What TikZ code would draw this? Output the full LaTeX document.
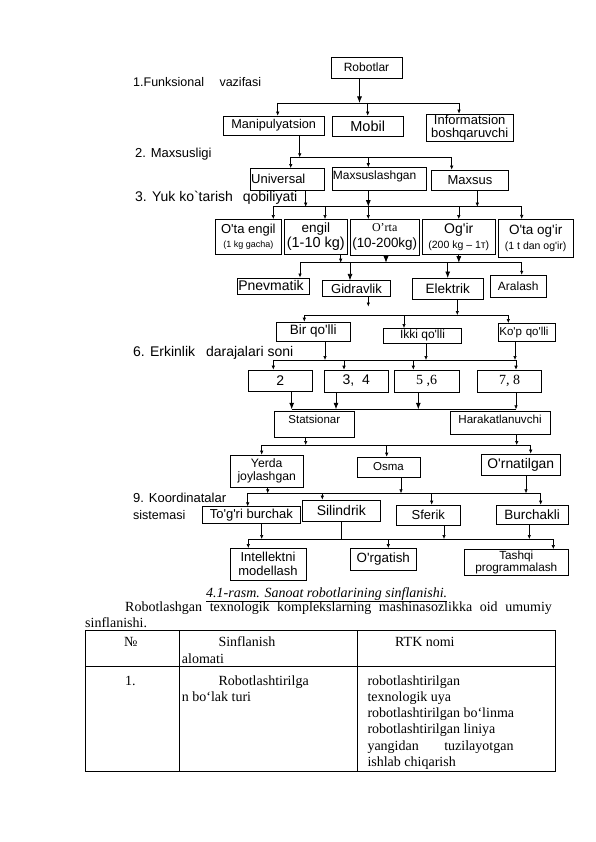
\documentclass[tikz,border=0pt]{standalone}
\usepackage{fontspec}
\setmainfont{Liberation Serif}
\newfontfamily\dgm{Liberation Sans}
\usetikzlibrary{arrows.meta}
\newcommand\dfs[1]{\dgm\fontsize{#1}{#1}\selectfont}
\tikzset{
    box/.style={rectangle, draw, line width=0.6pt, inner sep=1pt, align=center, font=\dfs{13}},
    lbox/.style={box, align=left, text width=#1},
    lbl/.style={anchor=west, inner sep=0pt, font=\dfs{13}},
    bus/.style={line width=0.6pt},
    arr/.style={-{Latex[length=4pt,width=3.5pt]}, line width=0.6pt},
    bigarr/.style={-{Latex[length=6.5pt,width=5pt]}, line width=0.8pt},
    txt/.style={anchor=base west, inner sep=0pt, font=\fontsize{14}{16.3}\selectfont},
}

\begin{document}
\begin{tikzpicture}[x=1pt, y=-1pt]
    \useasboundingbox (0,0) rectangle (596,842);

    % ── Level labels ───────────────────────────────────────────────
    \node[lbl, font=\dfs{12.5}] (l1) at (133,82.5) {1.Funksional\hspace{12pt} vazifasi};
    \node[lbl] (l2) at (135,154) {2. Maxsusligi};
    \node[lbl, font=\dfs{14}] (l3) at (135,197.5) {3. Yuk ko`tarish\hspace{6pt} qobiliyati};
    \node[lbl, font=\dfs{14}] (l6) at (133,352.5) {6. Erkinlik\hspace{7pt} darajalari soni};
    \node[lbl] (l9a) at (133,497.5) {9. Koordinatalar};
    \node[lbl, font=\dfs{12.5}] (l9b) at (133,515) {sistemasi};

    % ── Boxes ──────────────────────────────────────────────────────
    \node[box, minimum width=71pt, minimum height=21pt, font=\dfs{12}] (rob) at (366.5,67.5) {Robotlar};

    \node[box, minimum width=100.7pt, minimum height=19pt, font=\dfs{12.7}] (man) at (273.7,125.5) {Manipulyatsion};
    \node[box, minimum width=71.3pt, minimum height=20pt, font=\dfs{14.5}] (mob) at (367.7,126) {Mobil};
    \node[box, minimum width=87.3pt, minimum height=27.7pt, font=\dfs{13}] (inf) at (469.7,127.8) {Informatsion\\[0pt]boshqaruvchi};

    \node[lbox=72pt, minimum height=21.7pt] (uni) at (287.2,179.2) {Universal};
    \node[lbox=92pt, minimum height=22.5pt, font=\dfs{12}] (mxl) at (378.9,178.8) {Maxsuslashgan\\[-4pt]\mbox{}};
    \node[box, minimum width=76.6pt, minimum height=20.7pt] (mxs) at (470,180.3) {Maxsus};

    \node[box, minimum width=66.7pt, minimum height=34.7pt] (oe) at (248.3,236.7) {O'ta engil\\[1pt]{\dfs{9}(1 kg gacha)}};
    \node[box, minimum width=63.7pt, minimum height=34.7pt, font=\dfs{13.5}] (en) at (315.8,236.7) {engil\\[2pt]{\dfs{14.5}(1-10 kg)}};
    \node[box, minimum width=69.3pt, minimum height=35.7pt] (ort) at (384.7,237.2) {{\rmfamily\fontsize{12}{12}\selectfont O'rta}\\[3pt]{\dfs{13.4}(10-200kg)}};
    \node[box, minimum width=72.3pt, minimum height=34.7pt, font=\dfs{14}] (og) at (458.8,236.7) {Og'ir\\[1pt]{\dfs{10.5}(200 kg – 1т)}};
    \node[box, minimum width=74.5pt, minimum height=38.2pt, font=\dfs{13.5}] (oog) at (535.7,238.4) {O'ta og'ir\\[1pt]{\dfs{10.5}(1 t dan og'ir)}};

    \node[lbox=70pt, minimum height=16pt, font=\dfs{14}] (pn) at (273.3,285.8) {Pnevmatik};
    \node[box, minimum width=68.4pt, minimum height=16pt] (gid) at (356.5,288.7) {Gidravlik};
    \node[box, minimum width=71.3pt, minimum height=21pt, font=\dfs{13.5}] (ele) at (447.7,288.8) {Elektrik};
    \node[box, minimum width=56.7pt, minimum height=22.3pt, font=\dfs{12}] (ara) at (518.3,286.2) {Aralash};

    \node[box, minimum width=73.3pt, minimum height=19pt, font=\dfs{13.5}] (bir) at (313.3,331.5) {Bir qo'lli};
    \node[box, minimum width=78.4pt, minimum height=15pt, font=\dfs{12}] (ikki) at (422.5,335.8) {Ikki qo'lli};
    \node[lbox=54.7pt, minimum height=18.4pt, font=\dfs{11.5}] (kop) at (526.7,332.5) {Ko'p qo'lli};

    \node[box, minimum width=64pt, minimum height=21.7pt, font=\dfs{14}] (n2) at (280.3,380.8) {2};
    \node[box, minimum width=64.3pt, minimum height=22pt, font=\dfs{14}] (n34) at (356.2,381) {3,\ \ 4};
    \node[box, minimum width=65.3pt, minimum height=22pt, font=\rmfamily\fontsize{14}{14}\selectfont] (n56) at (426.7,381) {5 ,6};
    \node[box, minimum width=64.4pt, minimum height=22pt, font=\rmfamily\fontsize{14}{14}\selectfont] (n78) at (509.5,381) {7, 8};

    \node[box, minimum width=80pt, minimum height=25.6pt, font=\dfs{11.5}] (sta) at (314.3,424.5) {Statsionar\\[-1pt]\mbox{}};
    \node[box, minimum width=100pt, minimum height=22.3pt, font=\dfs{11.6}] (har) at (500,422.8) {Harakatlanuvchi\\[-5pt]\mbox{}};

    \node[box, minimum width=73.3pt, minimum height=32pt, font=\dfs{12.2}] (yer) at (266.7,471) {Yerda\\[1pt]joylashgan};
    \node[box, minimum width=63pt, minimum height=20pt, font=\dfs{11.5}] (osm) at (388.5,467) {Osma};
    \node[box, minimum width=78.3pt, minimum height=21.7pt, font=\dfs{13.9}] (orn) at (520.8,464.8) {O'rnatilgan};

    \node[box, minimum width=97.3pt, minimum height=16.6pt] (tog) at (251.3,515) {To'g'ri burchak};
    \node[box, minimum width=77.3pt, minimum height=21.7pt, font=\dfs{14}] (sil) at (341.3,510.8) {Silindrik};
    \node[box, minimum width=64.7pt, minimum height=20pt] (sfe) at (428.3,515) {Sferik};
    \node[box, minimum width=72.3pt, minimum height=19pt, font=\dfs{13.5}] (bur) at (532.2,514.5) {Burchakli};

    \node[box, minimum width=76pt, minimum height=31.7pt] (int) at (268,564.2) {Intellektni\\[1pt]modellash};
    \node[box, minimum width=66.7pt, minimum height=21.7pt, font=\dfs{13.4}] (org) at (383.3,559.2) {O'rgatish};
    \node[box, minimum width=104pt, minimum height=25.7pt, font=\dfs{11.8}] (tas) at (516.3,562.2) {Tashqi\\[0pt]programmalash};

    % ── Bus points ─────────────────────────────────────────────────
    \coordinate (b1l) at (277.7,103);   \coordinate (b1r) at (459,103);
    \coordinate (b2l) at (290.7,157.3); \coordinate (b2r) at (451.7,157.3);
    \coordinate (b3l) at (273.3,206.7); \coordinate (b3r) at (521.7,206.7);
    \coordinate (b4l) at (300,262.7);   \coordinate (b4r) at (521.7,262.7);
    \coordinate (gend) at (368.3,306.5);
    \coordinate (b5l) at (304.3,315);   \coordinate (b5r) at (508.3,315);
    \coordinate (b6l) at (273.3,360);   \coordinate (b6r) at (516,360);
    \coordinate (b7l) at (291.7,409.3); \coordinate (b7r) at (516,409.3);
    \coordinate (b8l) at (261.7,445);   \coordinate (b8r) at (530.7,445);
    \coordinate (b9l) at (247.7,493.3); \coordinate (b9r) at (540.7,493.3);
    \coordinate (b10l) at (248.3,539);  \coordinate (b10r) at (553.3,539);

    % ── Connectors ─────────────────────────────────────────────────

    % 1. Funksional
    \draw[bigarr] ([xshift=-7pt]rob.south) -- ([xshift=-7pt]rob.south |- b1l);
    \draw[bus] (b1l) -- (b1r);
    \draw[arr] (b1l) -- (b1l |- man.north);
    \draw[arr] (mob.north |- b1l) -- (mob.north);
    \draw[arr] (b1r) -- (b1r |- inf.north);

    % 2. Maxsusligi
    \draw[arr] ([xshift=26pt]man.south) -- ([xshift=26pt]man.south |- b2l);
    \draw[bus] (b2l) -- (b2r);
    \draw[arr] (b2l) -- (b2l |- uni.north);
    \draw[arr] ([xshift=-10.6pt]mxl.north |- b2l) -- ([xshift=-10.6pt]mxl.north);
    \draw[arr] (b2r) -- (b2r |- mxs.north);

    % 3. Yuk
    \draw[arr] ([xshift=18.5pt]uni.south) -- ([xshift=18.5pt]uni.south |- b3l);
    \draw[bigarr] ([xshift=-10.6pt]mxl.south) -- ([xshift=-10.6pt]mxl.south |- b3l);
    \draw[arr] ([xshift=7.3pt]mxs.south) -- ([xshift=7.3pt]mxs.south |- b3l);
    \draw[bus] (b3l) -- (b3r);
    \draw[arr] (b3l) -- (b3l |- oe.north);
    \draw[arr] ([xshift=9.2pt]en.north |- b3l) -- ([xshift=9.2pt]en.north);
    \draw[arr] ([xshift=-16.4pt]ort.north |- b3l) -- ([xshift=-16.4pt]ort.north);
    \draw[arr] (og.north |- b3l) -- (og.north);
    \draw[arr] (b3r) -- (b3r |- oog.north);

    % 4. Yuritma
    \draw[arr] ([xshift=24.9pt]en.south) -- ([xshift=24.9pt]en.south |- b4l);
    \draw[bigarr] ([xshift=1.3pt]ort.south) -- ([xshift=1.3pt]ort.south |- b4l);
    \draw[bigarr] (og.south) -- (og.south |- b4l);
    \draw[bus] (b4l) -- (b4r);
    \draw[arr] (b4l) -- (b4l |- pn.north);
    \draw[bigarr] ([xshift=-6.5pt]gid.north |- b4l) -- ([xshift=-6.5pt]gid.north);
    \draw[bigarr] (ele.north |- b4l) -- (ele.north);
    \draw[arr] (b4r) -- (b4r |- ara.north);

    % 5. Qo'llar
    \draw[arr] (gid.south -| gend) -- (gend);
    \draw[arr] ([xshift=9.6pt]ele.south) -- ([xshift=9.6pt]ele.south |- b5l);
    \draw[bus] (b5l) -- (b5r);
    \draw[arr] (b5l) -- (b5l |- bir.north);
    \draw[arr] ([xshift=-18.5pt]ikki.north |- b5l) -- ([xshift=-18.5pt]ikki.north);
    \draw[arr] (b5r) -- (b5r |- kop.north);

    % 6. Erkinlik
    \draw[arr] ([xshift=11.7pt]bir.south) -- ([xshift=11.7pt]bir.south |- b6l);
    \draw[arr] ([xshift=3.5pt]ikki.south) -- ([xshift=3.5pt]ikki.south |- b6l);
    \draw[arr] ([xshift=-11.7pt]kop.south) -- ([xshift=-11.7pt]kop.south |- b6l);
    \draw[bus] (b6l) -- (b6r);
    \draw[arr] (b6l) -- (b6l |- n2.north);
    \draw[arr] ([xshift=-12.2pt]n34.north |- b6l) -- ([xshift=-12.2pt]n34.north);
    \draw[arr] ([xshift=-13.4pt]n56.north |- b6l) -- ([xshift=-13.4pt]n56.north);
    \draw[arr] (b6r) -- (b6r |- n78.north);

    % 7. Harakat
    \draw[bigarr] ([xshift=11.4pt]n2.south) -- ([xshift=11.4pt]n2.south |- b7l);
    \draw[bigarr] ([xshift=-20.2pt]n34.south) -- ([xshift=-20.2pt]n34.south |- b7l);
    \draw[bigarr] ([xshift=-8.4pt]n56.south) -- ([xshift=-8.4pt]n56.south |- b7l);
    \draw[arr] ([xshift=6.5pt]n78.south) -- ([xshift=6.5pt]n78.south |- b7l);
    \draw[bus] (b7l) -- (b7r);

    % 8. Joylashuv
    \draw[arr] ([xshift=-8.6pt]sta.south) -- ([xshift=-8.6pt]sta.south |- b8l);
    \draw[arr] ([xshift=16.7pt]har.south) -- ([xshift=16.7pt]har.south |- b8l);
    \draw[bus] (b8l) -- (b8r);
    \draw[arr] (b8l) -- (b8l |- yer.north);
    \draw[arr] ([xshift=-1.8pt]osm.north |- b8l) -- ([xshift=-1.8pt]osm.north);
    \draw[arr] (b8r) -- (b8r |- orn.north);

    % 9. Koordinatalar
    \draw[arr] ([xshift=1pt]yer.south) -- ([xshift=1pt]yer.south |- b9l);
    \draw[arr] ([xshift=12.5pt]osm.south) -- ([xshift=12.5pt]osm.south |- b9l);
    \draw[arr] ([xshift=5.2pt]orn.south) -- ([xshift=5.2pt]orn.south |- b9l);
    \draw[bus] (b9l) -- (b9r);
    \draw[arr] (b9l) -- (b9l |- tog.north);
    \draw[arr] ([xshift=-19pt]sil.north |- b9l) -- ([xshift=-19pt]sil.north);
    \draw[arr] ([xshift=3.4pt]sfe.north |- b9l) -- ([xshift=3.4pt]sfe.north);
    \draw[arr] (b9r) -- (b9r |- bur.north);

    % 10. Boshqaruv
    \draw[arr] ([xshift=10.4pt]tog.south) -- ([xshift=10.4pt]tog.south |- b10l);
    \draw[bus] (sil.south) -- (sil.south |- b10l);
    \draw[arr] ([xshift=15.7pt]sfe.south) -- ([xshift=15.7pt]sfe.south |- b10l);
    \draw[arr] ([xshift=-2.9pt]bur.south) -- ([xshift=-2.9pt]bur.south |- b10l);
    \draw[bus] (b10l) -- (b10r);
    \draw[arr] (b10l) -- (b10l |- int.north);
    \draw[arr] ([xshift=5pt]org.north |- b10l) -- ([xshift=5pt]org.north);
    \draw[arr] (b10r) -- (b10r |- tas.north);

    % ── Caption and text ───────────────────────────────────────────
    \node[txt, anchor=base] (cap) at (326.7,597) {\underline{\itshape 4.1-rasm. Sanoat robotlarining sinflanishi.}};
    \node[txt] (par1) at (125,611) {\makebox[426.7pt][s]{Robotlashgan texnologik komplekslarning mashinasozlikka oid umumiy}};
    \node[txt] (par2) at (85,627) {sinflanishi.};

    % ── Table ──────────────────────────────────────────────────────
    \coordinate (tnw) at (85,630);
    \coordinate (tse) at (555,771.7);
    \draw[line width=0.6pt] (tnw) rectangle (tse);
    \draw[line width=0.6pt] (tnw |- 0,666.7) -- (tse |- 0,666.7);
    \draw[line width=0.6pt] (179.3,0 |- tnw) -- (179.3,0 |- tse);
    \draw[line width=0.6pt] (357.3,0 |- tnw) -- (357.3,0 |- tse);

    \node[txt] (h1) at (124,646.7) {№};
    \node[txt] (h2a) at (218.3,646.7) {Sinflanish};
    \node[txt] (h2b) at (181.7,663.3) {alomati};
    \node[txt] (h3) at (395,646.7) {RTK nomi};
    \node[txt] (r1) at (125,685) {1.};
    \node[txt] (r2a) at (218.3,685) {Robotlashtirilga};
    \node[txt] (r2b) at (181.7,701.3) {n bo‘lak turi};
    \foreach \t [count=\i from 0] in {robotlashtirilgan, texnologik uya,
        robotlashtirilgan bo‘linma, robotlashtirilgan liniya,
        {\makebox[146pt][s]{yangidan tuzilayotgan}}, ishlab chiqarish}
        \node[txt] (r3-\i) at (367.3,685+16.3*\i) {\t};

\end{tikzpicture}
\end{document}
